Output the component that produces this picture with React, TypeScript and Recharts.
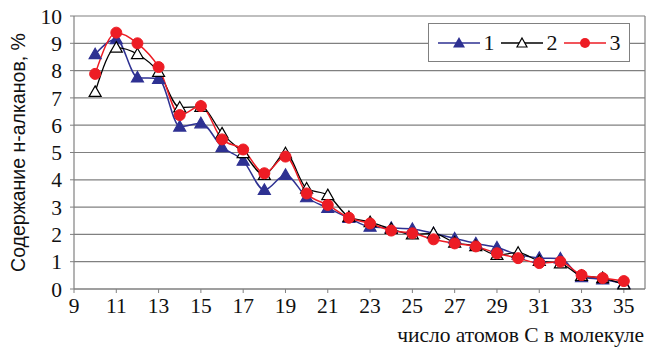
import { LineChart, Line, XAxis, YAxis, CartesianGrid, ReferenceLine } from "recharts";

// Carbon number of the n-alkane
const carbon = [10, 11, 12, 13, 14, 15, 16, 17, 18, 19, 20, 21, 22, 23, 24, 25, 26, 27, 28, 29, 30, 31, 32, 33, 34, 35];

// Content of n-alkanes, %
const series1 = [8.6, 9.15, 7.75, 7.7, 5.95, 6.07, 5.2, 4.7, 3.63, 4.18, 3.36, 2.97, 2.6, 2.28, 2.24, 2.2, 2.04, 1.85, 1.67, 1.52, 1.26, 1.14, 1.12, 0.43, 0.35, 0.2];
const series2 = [7.22, 8.84, 8.6, 7.95, 6.65, 6.67, 5.7, 4.98, 4.18, 4.97, 3.68, 3.44, 2.64, 2.45, 2.2, 2.0, 2.04, 1.7, 1.57, 1.25, 1.33, 1.03, 0.94, 0.48, 0.4, 0.17];
const series3 = [7.88, 9.39, 9.0, 8.13, 6.37, 6.7, 5.48, 5.11, 4.24, 4.85, 3.5, 3.08, 2.61, 2.4, 2.14, 2.04, 1.82, 1.67, 1.56, 1.31, 1.13, 0.95, 1.0, 0.51, 0.4, 0.29];

const xTicks = [9, 11, 13, 15, 17, 19, 21, 23, 25, 27, 29, 31, 33, 35];
const yTicks = [0, 1, 2, 3, 4, 5, 6, 7, 8, 9, 10];

const data = carbon.map((c, i) => ({ c, s1: series1[i], s2: series2[i], s3: series3[i] }));

const BLUE = "#2e3192";
const RED = "#ed1c24";
const GRID = "#808080";
const SERIF = "Liberation Serif, DejaVu Serif, serif";
const SANS = "Liberation Sans, Arial, sans-serif";

function Tri(props: any) {
  const { cx, cy, fill, stroke } = props;
  if (cx == null || cy == null) return null;
  const s = 6;
  return (
    <polygon
      points={`${cx},${cy - s} ${cx + s},${cy + s * 0.75} ${cx - s},${cy + s * 0.75}`}
      fill={fill}
      stroke={stroke}
      strokeWidth={1.2}
    />
  );
}

function Dot(props: any) {
  const { cx, cy } = props;
  if (cx == null || cy == null) return null;
  return <circle cx={cx} cy={cy} r={5.5} fill={RED} stroke={RED} />;
}

// rotated y title, centred on the plot height
function YTitle(props: any) {
  const vb = props.viewBox;
  if (!vb) return null;
  const x = vb.x + 18;
  const y = vb.y + vb.height / 2;
  return (
    <text
      x={x}
      y={y}
      transform={`rotate(-90, ${x}, ${y})`}
      textAnchor="middle"
      dominantBaseline="central"
      fontFamily={SANS}
      fontSize={19.5}
      fill="#111"
    >
      Содержание н-алканов, %
    </text>
  );
}

function XTitle(props: any) {
  const vb = props.viewBox;
  if (!vb) return null;
  return (
    <text
      x={vb.x + vb.width - 1}
      y={vb.y + 53}
      textAnchor="end"
      fontFamily={SERIF}
      fontSize={21.5}
      fill="#111"
    >
      число атомов С в молекуле
    </text>
  );
}

const legendItems = [
  { label: "1", color: BLUE, marker: "fillTri" },
  { label: "2", color: "#000", marker: "openTri" },
  { label: "3", color: RED, marker: "dot" },
];

// legend box sits over the grid, top-right of the plot
function LegendBox() {
  return (
    <div
      style={{
        position: "absolute",
        left: 428,
        top: 23,
        width: 202,
        height: 39,
        display: "flex",
        alignItems: "center",
        justifyContent: "center",
        gap: 6,
        border: `1px solid ${GRID}`,
        background: "#fff",
        fontFamily: SERIF,
        fontSize: 22,
        boxSizing: "border-box",
        color: "#111",
      }}
    >
      {legendItems.map((it) => (
        <span key={it.label} style={{ display: "flex", alignItems: "center", gap: 4 }}>
          <svg width={42} height={16}>
            <line x1={0} y1={8} x2={42} y2={8} stroke={it.color} strokeWidth={1.5} />
            {it.marker === "fillTri" && <polygon points="21,2 27,12.5 15,12.5" fill={BLUE} />}
            {it.marker === "openTri" && <polygon points="21,3 26,12 16,12" fill="#fff" stroke="#000" strokeWidth={1.2} />}
            {it.marker === "dot" && <circle cx={21} cy={8} r={5} fill={RED} />}
          </svg>
          <span>{it.label}</span>
        </span>
      ))}
    </div>
  );
}

export default function App() {
  return (
    <div
      style={{
        position: "absolute",
        left: 0,
        top: 0,
        width: 651,
        height: 349,
        background: "#fff",
        fontFamily: SERIF,
      }}
    >
      <LineChart
        width={651}
        height={349}
        data={data}
        margin={{ top: 16, right: 6, left: 0, bottom: 0 }}
        style={{ fontFamily: SERIF }}
      >
        <CartesianGrid vertical={false} stroke={GRID} strokeWidth={1.2} />
        <ReferenceLine x={36} stroke={GRID} strokeWidth={1.2} />
        <XAxis
          dataKey="c"
          type="number"
          domain={[9, 36]}
          ticks={xTicks}
          interval={0}
          height={60}
          tick={{ fontSize: 21.5, fill: "#111", fontFamily: SERIF }}
          tickSize={4}
          tickMargin={5}
          axisLine={{ stroke: GRID, strokeWidth: 1.2 }}
          tickLine={{ stroke: GRID }}
          label={<XTitle />}
        />
        <YAxis
          type="number"
          domain={[0, 10]}
          ticks={yTicks}
          interval={0}
          width={74}
          tick={{ fontSize: 21.5, fill: "#111", fontFamily: SERIF }}
          tickSize={4}
          tickMargin={8}
          axisLine={{ stroke: GRID, strokeWidth: 1.2 }}
          tickLine={{ stroke: GRID }}
          label={<YTitle />}
        />
        <Line
          type="monotone"
          dataKey="s1"
          stroke={BLUE}
          strokeWidth={1.5}
          dot={<Tri fill={BLUE} stroke={BLUE} />}
          isAnimationActive={false}
        />
        <Line
          type="monotone"
          dataKey="s2"
          stroke="#000"
          strokeWidth={1.3}
          dot={<Tri fill="#fff" stroke="#000" />}
          isAnimationActive={false}
        />
        <Line
          type="monotone"
          dataKey="s3"
          stroke={RED}
          strokeWidth={1.5}
          dot={<Dot />}
          isAnimationActive={false}
        />
      </LineChart>
      <LegendBox />
    </div>
  );
}
